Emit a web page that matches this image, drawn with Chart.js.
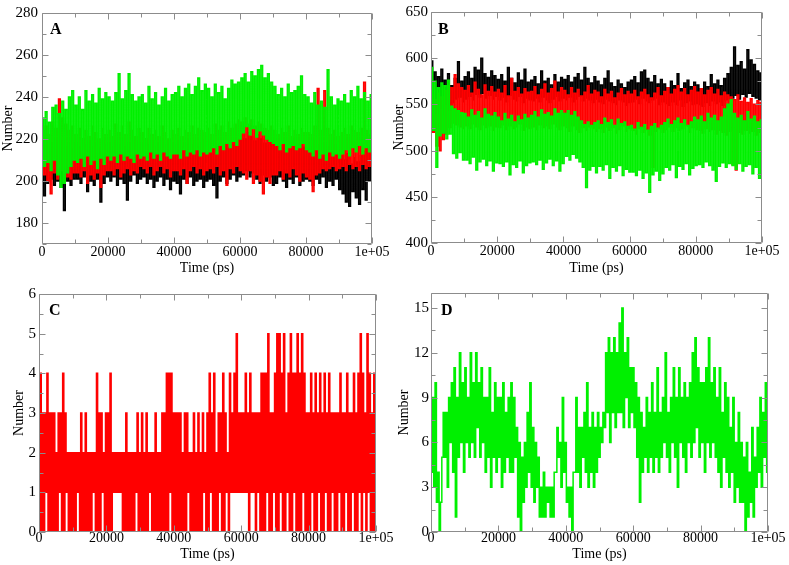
<!DOCTYPE html>
<html>
<head>
<meta charset="utf-8">
<title>Number vs Time</title>
<script src="https://cdn.jsdelivr.net/npm/chart.js@4.4.0/dist/chart.umd.min.js"></script>
<style>
    html, body { margin: 0; padding: 0; background: #fff; }
    #wrap { position: relative; width: 789px; height: 565px; overflow: hidden; }
    #wrap canvas { position: absolute; }
</style>
</head>
<body>
<div id="wrap">
    <canvas id="cA" width="395" height="280" style="left:0;top:0"></canvas>
    <canvas id="cB" width="404" height="280" style="left:385px;top:0"></canvas>
    <canvas id="cC" width="395" height="285" style="left:0;top:280px"></canvas>
    <canvas id="cD" width="404" height="285" style="left:385px;top:280px"></canvas>
</div>
<script>
// 时间轴刻度
const xTicks = [0, 20000, 40000, 60000, 80000, 100000];
const xTickText = ['0', '20000', '40000', '60000', '80000', '1e+05'];
const xMinor = [10000, 30000, 50000, 70000, 90000];

// 各面板纵轴刻度
const yTicksA = [180, 200, 220, 240, 260, 280];
const yMinorA = [170, 190, 210, 230, 250, 270];
const yTicksB = [400, 450, 500, 550, 600, 650];
const yMinorB = [425, 475, 525, 575, 625];
const yTicksC = [0, 1, 2, 3, 4, 5, 6];
const yMinorC = [0.5, 1.5, 2.5, 3.5, 4.5, 5.5];
const yTicksD = [0, 3, 6, 9, 12, 15];
const yMinorD = [1.5, 4.5, 7.5, 10.5, 13.5];

// 面板A (0 - 1e5 ps, 等间隔采样)
const aGreen = [
    230,207,233,209,228,205,235,210,236,203,232,197,238,199,234,204,240,207,243,210,
    236,209,240,211,234,207,243,212,238,208,241,210,237,206,244,211,239,208,242,212,
    240,210,238,212,242,209,251,213,239,210,243,212,251,211,241,209,238,213,240,211,
    241,212,237,210,245,214,239,211,242,213,236,210,240,214,244,212,238,211,241,213,
    242,213,245,211,240,215,244,212,246,214,241,213,245,215,249,212,243,214,246,213,
    244,214,240,216,246,213,242,217,245,215,239,218,244,216,248,219,246,217,247,220,
    249,223,251,226,247,222,252,225,250,221,253,224,255,222,249,220,251,219,247,218,
    245,217,241,215,244,218,240,214,246,216,242,217,243,215,245,216,250,218,241,215,
    240,214,237,212,242,215,236,211,238,213,235,210,253,214,240,212,236,213,239,211,
    238,213,241,215,237,212,243,216,240,214,245,217,239,213,242,216,238,214,241,215
];
const aRed = [
    224,203,226,200,222,194,228,204,225,201,239,205,230,199,227,202,224,201,226,204,
    222,204,225,202,220,205,224,199,221,203,226,201,223,204,220,197,225,203,222,205,
    224,205,221,203,227,206,223,202,226,204,222,206,228,203,224,205,221,204,225,207,
    223,206,220,204,225,207,222,203,224,205,221,207,226,204,223,206,220,202,224,205,
    222,205,225,203,221,206,224,199,223,205,226,207,222,204,225,206,224,203,223,205,
    225,206,222,204,227,207,224,203,226,205,223,198,228,206,225,204,227,207,229,205,
    228,204,230,201,227,205,229,199,226,203,228,200,227,194,225,202,224,199,226,203,
    224,203,222,205,225,201,223,204,226,202,221,206,224,203,222,200,225,204,223,202,
    223,201,222,195,226,203,244,204,224,206,243,205,225,206,222,207,224,205,221,206,
    223,207,225,205,222,208,226,206,224,207,223,205,225,208,247,206,224,207,222,205
];
const aBlack = [
    216,193,219,199,215,201,218,198,220,200,217,197,219,186,216,200,218,198,215,201,
    218,201,216,199,220,202,217,195,219,200,216,198,218,201,215,190,219,199,217,202,
    218,200,216,202,219,198,217,201,220,199,216,191,218,200,217,203,219,199,216,201,
    218,202,220,199,217,201,219,197,216,200,218,202,220,198,217,201,219,196,218,200,
    217,199,219,194,216,201,218,199,220,202,217,198,219,200,216,201,218,197,220,200,
    218,201,216,198,219,192,217,200,220,202,218,199,216,201,219,203,217,200,220,202,
    222,203,220,205,223,202,221,204,219,201,222,199,220,203,218,200,221,202,219,198,
    218,199,220,202,217,200,219,197,216,201,218,199,220,202,217,198,219,200,216,201,
    218,200,216,198,219,201,217,199,220,202,218,197,216,200,219,198,217,201,215,196,
    212,194,210,190,213,188,208,195,211,192,209,189,212,196,214,191,216,200,215,198
];

// 面板B
const bGreen = [
    590,522,575,482,568,516,573,519,570,513,576,518,548,497,545,492,543,498,541,490,
    540,490,536,486,544,493,538,479,542,488,535,491,545,484,539,489,537,478,541,487,
    536,486,532,483,540,488,534,474,538,485,531,482,537,489,533,476,539,484,535,487,
    538,488,542,485,536,490,544,480,539,487,541,491,537,484,545,489,540,478,543,486,
    540,494,543,490,538,496,542,492,536,488,532,482,528,460,531,479,527,483,530,476,
    532,483,528,479,535,485,530,470,533,482,527,478,534,484,529,473,531,480,526,477,
    527,477,523,473,530,479,525,470,528,476,522,455,526,474,529,478,524,468,527,475,
    530,482,534,479,528,485,532,471,535,483,529,480,533,486,527,474,531,481,536,484,
    533,485,537,482,531,488,540,484,535,479,538,467,532,483,536,487,545,482,550,486,
    555,484,540,480,535,486,538,478,532,483,542,485,534,475,537,482,531,470,533,462
];
const bRed = [
    560,520,555,505,562,500,558,512,565,518,570,525,568,530,582,528,572,526,568,524,
    565,527,570,524,562,529,574,526,566,523,560,528,571,525,564,527,569,522,563,526,
    566,525,562,528,570,523,559,527,578,524,564,526,568,529,561,522,567,526,563,524,
    564,526,569,523,560,528,566,525,572,527,562,524,567,529,575,526,563,523,568,527,
    565,525,560,521,568,527,562,523,566,520,559,525,563,522,570,526,561,524,565,521,
    563,524,558,520,566,526,561,522,564,525,557,519,562,523,567,527,560,521,564,524,
    561,522,565,518,558,524,563,520,566,523,560,517,557,482,562,521,568,524,559,520,
    564,523,568,526,561,521,566,525,570,522,563,524,567,527,560,520,565,525,569,523,
    563,522,567,519,560,524,565,521,568,523,561,518,566,522,559,520,563,517,560,521,
    558,485,555,479,560,520,553,518,557,522,552,519,556,521,550,517,554,520,552,522
];
const bBlack = [
    597,548,585,541,580,546,588,539,576,550,583,544,570,552,578,556,596,558,575,553,
    580,556,585,559,578,555,590,561,587,558,600,562,583,557,579,560,586,556,581,559,
    577,555,582,558,575,553,590,560,578,556,573,554,584,559,576,552,588,557,574,555,
    576,554,580,557,572,553,586,558,575,555,578,552,571,556,582,559,574,554,579,557,
    577,555,581,558,574,553,579,556,583,559,576,554,590,557,578,555,573,552,580,556,
    575,553,571,551,578,556,586,554,573,552,569,550,576,555,572,553,568,549,574,552,
    576,553,580,556,573,551,585,557,587,554,578,552,574,555,581,557,572,550,577,553,
    572,551,568,549,575,553,570,550,583,555,567,548,573,552,576,554,569,550,574,551,
    571,550,567,548,574,552,569,549,582,554,572,551,576,553,570,549,578,555,583,556,
    590,557,612,560,592,556,596,561,588,558,609,562,598,559,593,557,586,555,584,553
];

// 面板C (整数计数)
const cRed = [
    0,4,0,3,0,3,1,4,0,3, 0,3,0,3,0,2,0,3,1,3, 0,4,0,3,1,2,0,2,0,2,
    0,2,0,2,1,2,0,3,0,2, 0,3,0,2,0,2,0,2,1,2, 0,4,0,3,0,3,1,2,0,3,
    0,3,0,4,0,2,1,2,1,2, 1,2,1,2,0,2,0,3,0,2, 0,2,0,2,0,2,1,3,0,2,
    0,3,0,2,0,3,0,2,1,2, 0,2,0,3,0,2,0,2,0,3, 0,3,0,4,0,4,1,4,0,3,
    0,3,0,3,0,3,0,2,0,3, 0,3,1,2,0,2,0,3,0,2, 0,3,0,2,0,3,1,2,0,3,
    0,4,1,3,0,4,0,2,0,3, 1,3,0,4,0,3,1,2,0,4, 1,3,1,4,1,5,1,3,1,3,
    1,3,1,4,1,3,0,4,1,3, 1,3,0,3,1,3,0,4,0,4, 0,4,1,5,0,3,0,3,1,4,
    0,5,0,5,1,4,0,5,0,3, 1,4,0,5,0,4,1,4,0,5, 0,4,0,5,1,4,0,3,0,3,
    0,4,1,3,0,4,0,3,1,4, 0,3,0,4,1,3,0,4,0,3, 1,3,0,3,0,3,1,4,0,3,
    0,3,1,4,0,3,0,3,1,4, 0,3,0,4,1,5,0,4,1,3, 0,5,1,4,0,3,0,4,0,4
];

// 面板D (整数计数)
const dGreen = [
    4,9,3,10,2,4,0,2,5,8, 5,8,3,9,6,10,4,11,1,9, 5,12,6,10,4,11,6,9,5,12,
    6,10,5,12,7,10,5,11,6,9, 4,9,5,11,3,8,5,10,4,9, 5,9,3,10,4,8,5,9,4,10,
    4,9,5,7,1,6,0,5,2,6, 3,8,4,10,3,7,2,6,3,5, 1,3,1,4,1,3,2,3,1,3,
    1,4,4,7,5,6,3,9,4,6, 2,3,1,3,0,4,4,9,4,7, 3,7,5,8,4,10,3,7,4,8,
    3,7,4,8,5,7,6,8,7,12, 8,13,6,12,8,13,7,12,8,14, 8,15,7,12,9,13,7,11,8,11,
    7,10,5,9,2,8,4,7,5,9, 4,8,5,10,4,8,5,11,4,8, 5,9,6,12,5,8,4,9,6,11,
    5,9,3,11,6,9,5,10,4,9, 6,10,5,12,6,13,7,11,5,10, 6,10,4,11,6,13,5,10,6,11,
    5,9,4,11,3,8,5,10,4,9, 3,7,4,9,2,6,3,8,2,6, 2,5,0,6,1,4,2,7,1,5,
    3,7,4,9,3,8,5,10,4,8
];

const SERIF = '"Liberation Serif", "Times New Roman", serif';
const BLACK = '#000000';
const RED = '#ff0000';
const GREEN = '#00f000';
const T_END = 100000;

/**
 * 把数值序列映射为等间隔时间点
 */
function toPoints(values) {
    const step = T_END / (values.length - 1);
    return values.map((v, i) => ({ x: i * step, y: v }));
}

/**
 * 画外框、向内刻度和面板字母 (xmgrace 风格)
 */
const framePlugin = {
    id: 'frame',
    afterDatasetsDraw(chart, args, opts) {
        const { ctx, chartArea: a, scales: { x, y } } = chart;
        const L = Math.round(a.left) + 0.5, R = Math.round(a.right) - 0.5;
        const T = Math.round(a.top) + 0.5, B = Math.round(a.bottom) - 0.5;
        ctx.save();
        ctx.strokeStyle = '#8c8c8c';
        ctx.lineWidth = 1;
        ctx.beginPath();
        ctx.rect(L, T, R - L, B - T);
        const xTick = (vals, len) => vals.forEach(v => {
            const px = Math.round(x.getPixelForValue(v)) + 0.5;
            ctx.moveTo(px, B); ctx.lineTo(px, B - len);
            ctx.moveTo(px, T); ctx.lineTo(px, T + len);
        });
        const yTick = (vals, len) => vals.forEach(v => {
            const py = Math.round(y.getPixelForValue(v)) + 0.5;
            ctx.moveTo(L, py); ctx.lineTo(L + len, py);
            ctx.moveTo(R, py); ctx.lineTo(R - len, py);
        });
        xTick(xTicks, 6);
        xTick(xMinor, 4);
        yTick(opts.yMajor, 6);
        yTick(opts.yMinor, 4);
        ctx.stroke();
        ctx.fillStyle = '#000';
        ctx.font = 'bold 16px ' + SERIF;
        ctx.textBaseline = 'alphabetic';
        ctx.fillText(opts.letter, a.left + opts.dx, a.top + opts.dy);
        ctx.restore();
    }
};

/**
 * 创建一个面板
 */
function makePanel(id, cfg) {
    return new Chart(document.getElementById(id), {
        type: 'line',
        data: {
            datasets: cfg.series.map(s => ({
                data: toPoints(s.values),
                borderColor: s.color,
                borderWidth: cfg.lineWidth,
                pointRadius: 0,
                stepped: true,
                fill: false
            }))
        },
        options: {
            responsive: false,
            animation: false,
            events: [],
            layout: { padding: cfg.pad },
            plugins: {
                legend: { display: false },
                tooltip: { enabled: false },
                frame: { letter: cfg.letter, dx: cfg.letterDx, dy: cfg.letterDy, yMajor: cfg.yTicks, yMinor: cfg.yMinor }
            },
            scales: {
                x: {
                    type: 'linear',
                    min: 0,
                    max: T_END,
                    grid: { display: false, drawTicks: false },
                    border: { display: false },
                    afterFit: s => { s.height = cfg.xH; },
                    afterBuildTicks: s => { s.ticks = xTicks.map(v => ({ value: v })); },
                    ticks: {
                        autoSkip: false,
                        maxRotation: 0,
                        padding: cfg.xTickPad,
                        color: '#000',
                        font: { family: SERIF, size: 14 },
                        callback: v => xTickText[xTicks.indexOf(v)]
                    },
                    title: {
                        display: true,
                        text: 'Time (ps)',
                        color: '#000',
                        font: { family: SERIF, size: 14 },
                        padding: { top: 0, bottom: cfg.xTitlePad }
                    }
                },
                y: {
                    min: cfg.yMin,
                    max: cfg.yMax,
                    grid: { display: false, drawTicks: false },
                    border: { display: false },
                    afterFit: s => { s.width = cfg.yW; },
                    afterBuildTicks: s => { s.ticks = cfg.yTicks.map(v => ({ value: v })); },
                    ticks: {
                        padding: cfg.yTickPad,
                        color: '#000',
                        font: { family: SERIF, size: 15 }
                    },
                    title: {
                        display: true,
                        text: 'Number',
                        color: '#000',
                        font: { family: SERIF, size: 14 },
                        padding: { top: cfg.yTitlePad, bottom: 0 }
                    }
                }
            }
        },
        plugins: [framePlugin]
    });
}

makePanel('cA', {
    series: [{ values: aGreen, color: GREEN }, { values: aRed, color: RED }, { values: aBlack, color: BLACK }],
    lineWidth: 1.6,
    yMin: 170, yMax: 280, yTicks: yTicksA, yMinor: yMinorA,
    pad: { left: 0, top: 11, right: 23, bottom: 0 },
    yW: 42, xH: 36, yTickPad: 4, xTickPad: 0, yTitlePad: 0, xTitlePad: 3,
    letter: 'A', letterDx: 8, letterDy: 21
});

makePanel('cB', {
    series: [{ values: bGreen, color: GREEN }, { values: bRed, color: RED }, { values: bBlack, color: BLACK }],
    lineWidth: 1.6,
    yMin: 400, yMax: 650, yTicks: yTicksB, yMinor: yMinorB,
    pad: { left: 0, top: 10, right: 27, bottom: 0 },
    yW: 46, xH: 37, yTickPad: 3, xTickPad: 0, yTitlePad: 6, xTitlePad: 3,
    letter: 'B', letterDx: 7, letterDy: 22
});

makePanel('cC', {
    series: [{ values: cRed, color: RED }],
    lineWidth: 1.5,
    yMin: 0, yMax: 6, yTicks: yTicksC, yMinor: yMinorC,
    pad: { left: 0, top: 14, right: 19, bottom: 0 },
    yW: 39, xH: 33, yTickPad: 3, xTickPad: -2, yTitlePad: 11, xTitlePad: 2,
    letter: 'C', letterDx: 10, letterDy: 21
});

makePanel('cD', {
    series: [{ values: dGreen, color: GREEN }],
    lineWidth: 1.5,
    yMin: 0, yMax: 16, yTicks: yTicksD, yMinor: yMinorD,
    pad: { left: 0, top: 13, right: 21, bottom: 0 },
    yW: 46, xH: 33, yTickPad: 2, xTickPad: -2, yTitlePad: 11, xTitlePad: 2,
    letter: 'D', letterDx: 10, letterDy: 22
});
</script>
</body>
</html>
